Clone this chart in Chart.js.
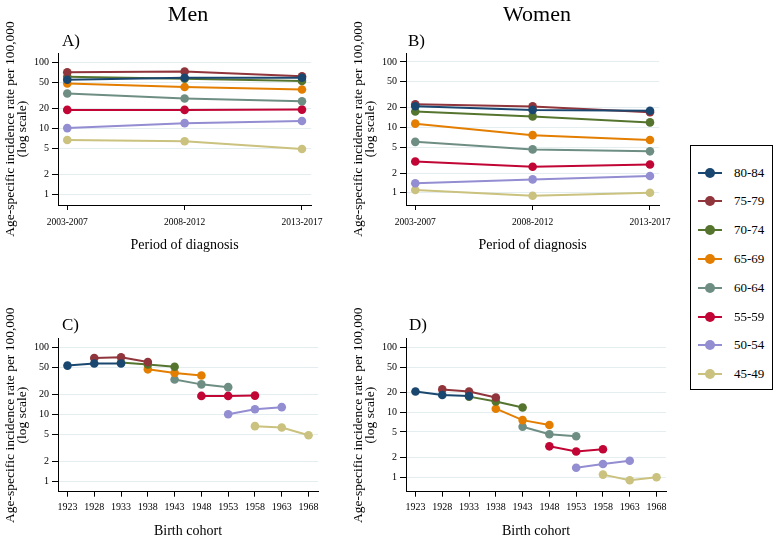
<!DOCTYPE html>
<html>
<head>
<meta charset="utf-8">
<script src="https://cdn.jsdelivr.net/npm/chart.js@4.4.0/dist/chart.umd.min.js"></script>
<style>
  body { margin: 0; background: #fff; }
  #page { position: relative; width: 780px; height: 541px; overflow: hidden; font-family: 'Liberation Serif', serif; color: #000; }
  .panel { position: absolute; width: 330px; }
  .sex { position: absolute; top: 3px; width: 200px; font-size: 22px; line-height: 22px; text-align: center; }
  .tag { position: absolute; font-size: 17px; line-height: 17px; }
  #legend { position: absolute; left: 690px; top: 145px; width: 83px; height: 245px; border: 1px solid #000; box-sizing: border-box; }
  .item { position: absolute; left: 7px; height: 12px; width: 70px; font-size: 13px; line-height: 12px; }
  .item .ln { position: absolute; left: 0; top: 5px; width: 24px; height: 2px; }
  .item .dot { position: absolute; left: 7px; top: 1px; width: 10px; height: 10px; border-radius: 50%; }
  .item .lbl { position: absolute; left: 36px; top: 0; }
</style>
</head>
<body>
<div id="page">
  <canvas id="panelA" class="panel" width="330" height="260" style="left:0; top:0"></canvas>
  <canvas id="panelB" class="panel" width="330" height="260" style="left:348px; top:0"></canvas>
  <canvas id="panelC" class="panel" width="330" height="251" style="left:0; top:290px"></canvas>
  <canvas id="panelD" class="panel" width="330" height="251" style="left:348px; top:290px"></canvas>

  <div class="sex" style="left:88px">Men</div>
  <div class="sex" style="left:437px">Women</div>
  <div class="tag" style="left:62px; top:32px">A)</div>
  <div class="tag" style="left:408px; top:32px">B)</div>
  <div class="tag" style="left:62px; top:316px">C)</div>
  <div class="tag" style="left:409px; top:316px">D)</div>

  <div id="legend"></div>
</div>
<script>
// periods and cohorts
const periodLabels = ['2003-2007', '2008-2012', '2013-2017'];
const periodStart = [2003, 2008, 2013];
const cohortTicks = [1923, 1928, 1933, 1938, 1943, 1948, 1953, 1958, 1963, 1968];

// age groups (legend order)
const ageGroups = ['80-84', '75-79', '70-74', '65-69', '60-64', '55-59', '50-54', '45-49'];
const ageLow = [80, 75, 70, 65, 60, 55, 50, 45];
const ageColors = ['#1a476f', '#90353b', '#55752f', '#e37e00', '#6e8e84', '#c10534', '#938dd2', '#cac27e'];

// rates per 100,000, one value per period
const men80_84 = [54, 58, 58];
const men75_79 = [70, 72, 61];
const men70_74 = [60, 56, 52];
const men65_69 = [47.5, 42, 38.5];
const men60_64 = [33.5, 28.3, 25.7];
const men55_59 = [19, 19, 19.2];
const men50_54 = [10.1, 12, 12.9];
const men45_49 = [6.7, 6.4, 4.9];

const women80_84 = [21, 18.5, 17.9];
const women75_79 = [22.6, 20.9, 17];
const women70_74 = [17.5, 14.7, 11.9];
const women65_69 = [11.4, 7.6, 6.4];
const women60_64 = [6.0, 4.6, 4.3];
const women55_59 = [3.0, 2.5, 2.7];
const women50_54 = [1.4, 1.6, 1.8];
const women45_49 = [1.1, 0.9, 1.0];

const yTicks = [1, 2, 5, 10, 20, 50, 100];

const menRates = [men80_84, men75_79, men70_74, men65_69, men60_64, men55_59, men50_54, men45_49];
const womenRates = [women80_84, women75_79, women70_74, women65_69, women60_64, women55_59, women50_54, women45_49];

const FONT = "'Liberation Serif', serif";
const GRID = '#e4edf0';

function makePanel(id, rates, byCohort, yMin) {
    const datasets = rates.map((vals, i) => ({
        label: ageGroups[i],
        data: vals.map((v, p) => ({
            x: byCohort ? periodStart[p] - ageLow[i] : p,
            y: v
        })),
        borderColor: ageColors[i],
        backgroundColor: ageColors[i],
        pointBackgroundColor: ageColors[i],
        borderWidth: 2,
        pointRadius: 4.3,
        pointBorderWidth: 0,
        tension: 0
    }));

    const xPad = byCohort ? 1.77 : 0.079;
    const xLo = byCohort ? cohortTicks[0] : 0;
    const xHi = byCohort ? cohortTicks[cohortTicks.length - 1] : periodLabels.length - 1;
    const xTickVals = byCohort ? cohortTicks : periodLabels.map((_, i) => i);
    const xAxisH = byCohort ? 49.3 : 55;

    return new Chart(document.getElementById(id), {
        type: 'line',
        data: { datasets },
        options: {
            responsive: false,
            animation: false,
            events: [],
            layout: { padding: { left: 0, top: byCohort ? 48.6 : 53, right: 12, bottom: 0 } },
            plugins: { legend: { display: false }, tooltip: { enabled: false } },
            scales: {
                x: {
                    type: 'linear',
                    min: xLo - xPad,
                    max: xHi + xPad,
                    afterBuildTicks: s => { s.ticks = xTickVals.map(v => ({ value: v })); },
                    afterFit: s => { s.height = xAxisH; },
                    border: { color: '#000', width: 1 },
                    grid: { drawOnChartArea: false, drawTicks: true, tickLength: 5, tickColor: '#000', tickWidth: 1 },
                    ticks: {
                        autoSkip: false, maxRotation: 0, padding: byCohort ? 5 : 7,
                        color: '#000',
                        font: { family: FONT, size: byCohort ? 10 : 9.5 },
                        callback: v => byCohort ? String(v) : periodLabels[v]
                    },
                    title: {
                        display: true,
                        text: byCohort ? 'Birth cohort' : 'Period of diagnosis',
                        color: '#000',
                        font: { family: FONT, size: 14 },
                        padding: { top: 0, bottom: byCohort ? 1.6 : 6.6 }
                    }
                },
                y: {
                    type: 'logarithmic',
                    min: yMin,
                    max: 137,
                    afterBuildTicks: s => { s.ticks = yTicks.map(v => ({ value: v })); },
                    afterFit: s => { s.width = 58; },
                    border: { color: '#000', width: 1 },
                    grid: { color: GRID, lineWidth: 1, drawTicks: true, tickLength: 6, tickColor: '#000', tickWidth: 1 },
                    ticks: {
                        padding: 3,
                        color: '#000',
                        font: { family: FONT, size: 10 },
                        callback: v => String(v)
                    },
                    title: {
                        display: true,
                        text: ['Age-specific incidence rate per 100,000', '(log scale)'],
                        color: '#000',
                        font: { family: FONT, size: 13.5, lineHeight: '12px' },
                        padding: { top: 4, bottom: 0 }
                    }
                }
            }
        }
    });
}

makePanel('panelA', menRates, false, 0.72);
makePanel('panelB', womenRates, false, 0.65);
makePanel('panelC', menRates, true, 0.7);
makePanel('panelD', womenRates, true, 0.64);

// legend
const legend = document.getElementById('legend');
ageGroups.forEach((g, i) => {
    const item = document.createElement('div');
    item.className = 'item';
    item.style.top = (20.5 + i * 28.8) + 'px';
    item.innerHTML =
        `<span class="ln" style="background:${ageColors[i]}"></span>` +
        `<span class="dot" style="background:${ageColors[i]}"></span>` +
        `<span class="lbl">${g}</span>`;
    legend.appendChild(item);
});
</script>
</body>
</html>
